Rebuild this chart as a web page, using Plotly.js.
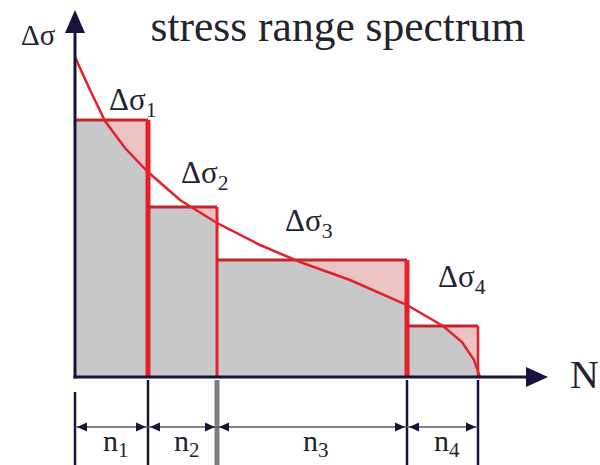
<!DOCTYPE html>
<html>
<head>
<meta charset="utf-8">
<script src="https://cdn.plot.ly/plotly-3.0.1.min.js"></script>
<style>
  html, body { margin: 0; padding: 0; background: #ffffff; }
  #chart { width: 600px; height: 465px; }
</style>
</head>
<body>
<div id="chart"></div>
<script>
// Block loading: stress level Δσ_i applied for n_i cycles
const blockLabels = ['Δσ<sub>1</sub>', 'Δσ<sub>2</sub>', 'Δσ<sub>3</sub>', 'Δσ<sub>4</sub>'];
const cycleLabels = ['n<sub>1</sub>', 'n<sub>2</sub>', 'n<sub>3</sub>', 'n<sub>4</sub>'];
const stressLevels = [257, 170, 117, 51];
const cycleCounts = [73, 69, 190, 71];

// Continuous stress range spectrum (cumulative cycles N, stress range Δσ)
const spectrumN = [0, 15, 30, 50, 73, 105, 142, 185, 225, 275, 332, 368, 387, 399, 405];
const spectrumS = [320, 287, 256, 229, 205, 177, 154, 132, 115, 97, 72, 51, 35, 17, 0];

// Axis labels and heading
const titleText = 'stress range spectrum';
const yAxisLabel = 'Δσ';
const xAxisLabel = 'N';

// ---- geometry derived from the data ----
const edges = [0];
cycleCounts.forEach(n => edges.push(edges[edges.length - 1] + n));
const nMax = edges[edges.length - 1];

const X_RANGE = [-75, 525];
const Y_RANGE = [-88, 377];
const DIM_Y = -50;        // dimension line below the N axis
const X_ARROW_TIP = 473;
const Y_ARROW_TIP = 367;

const NAVY = '#15153c';
const RED = '#e3212b';
const RED_DARK = '#c1262c';
const GREY_FILL = '#c8c8cb';
const PINK_FILL = '#ecc3c3';
const TEXT = '#23232e';
const SERIF = 'Liberation Serif, Times New Roman, serif';

function spectrumAt(x) {
  for (let i = 0; i < spectrumN.length - 1; i++) {
    const x0 = spectrumN[i], x1 = spectrumN[i + 1];
    if (x >= x0 && x <= x1) {
      const t = (x - x0) / (x1 - x0);
      return spectrumS[i] + t * (spectrumS[i + 1] - spectrumS[i]);
    }
  }
  return 0;
}

// Points along a block where the fill boundary can bend
function blockBreaks(a, b, h) {
  const xs = [a, b];
  spectrumN.forEach(x => { if (x > a && x < b) xs.push(x); });
  for (let i = 0; i < spectrumN.length - 1; i++) {
    const d0 = spectrumS[i] - h, d1 = spectrumS[i + 1] - h;
    if (d0 * d1 < 0) {
      const x = spectrumN[i] + (d0 / (d0 - d1)) * (spectrumN[i + 1] - spectrumN[i]);
      if (x > a && x < b) xs.push(x);
    }
  }
  return xs.sort((p, q) => p - q);
}

const traces = [];
const edgeWidths = [5, 3, 5, 2.5];

stressLevels.forEach((h, i) => {
  const a = edges[i], b = edges[i + 1];
  // part of the block above the spectrum curve
  traces.push({
    type: 'scatter', mode: 'lines', x: [a, a, b, b, a], y: [0, h, h, 0, 0],
    fill: 'toself', fillcolor: PINK_FILL, line: { width: 0 }, hoverinfo: 'skip'
  });
  // part of the block under the spectrum curve
  const xs = blockBreaks(a, b, h);
  const px = [a], py = [0];
  xs.forEach(x => { px.push(x); py.push(Math.min(spectrumAt(x), h)); });
  px.push(b, a); py.push(0, 0);
  traces.push({
    type: 'scatter', mode: 'lines', x: px, y: py,
    fill: 'toself', fillcolor: GREY_FILL, line: { width: 0 }, hoverinfo: 'skip'
  });
});

// block outlines
stressLevels.forEach((h, i) => {
  const a = edges[i], b = edges[i + 1];
  traces.push({
    type: 'scatter', mode: 'lines', x: [a, b], y: [h, h],
    line: { color: RED_DARK, width: 3 }, hoverinfo: 'skip'
  });
  traces.push({
    type: 'scatter', mode: 'lines', x: [b, b], y: [h, 0],
    line: { color: RED, width: edgeWidths[i] }, hoverinfo: 'skip'
  });
});

// spectrum curve
traces.push({
  type: 'scatter', mode: 'lines', x: spectrumN, y: spectrumS,
  line: { color: RED, width: 2.5 }, hoverinfo: 'skip'
});

// extension ticks below the axis at block boundaries
edges.forEach((e, i) => {
  traces.push({
    type: 'scatter', mode: 'lines', x: [e, e], y: [i === 0 ? -15 : -3, Y_RANGE[0]],
    line: { color: i === 2 ? '#7d7d82' : NAVY, width: i === 2 ? 5 : 2.5 },
    hoverinfo: 'skip'
  });
});

// dimension line
traces.push({
  type: 'scatter', mode: 'lines', x: [0, nMax], y: [DIM_Y, DIM_Y],
  line: { color: '#5a5a62', width: 1.5 }, hoverinfo: 'skip'
});

// axis lines (Δσ and N)
traces.push({
  type: 'scatter', mode: 'lines', x: [0, 0], y: [-1.5, Y_ARROW_TIP - 15],
  line: { color: NAVY, width: 3 }, hoverinfo: 'skip'
});
traces.push({
  type: 'scatter', mode: 'lines', x: [-1.5, X_ARROW_TIP - 15], y: [0, 0],
  line: { color: NAVY, width: 3 }, hoverinfo: 'skip'
});

// arrowheads as filled triangles in axis units
const shapes = [];
function head(tipX, tipY, dirX, dirY, len, half, color) {
  const bx = tipX - dirX * len, by = tipY - dirY * len;
  const nx = -dirY * half, ny = dirX * half;
  shapes.push({
    type: 'path', xref: 'x', yref: 'y', layer: 'above',
    path: `M ${tipX} ${tipY} L ${bx + nx} ${by + ny} L ${bx - nx} ${by - ny} Z`,
    fillcolor: color, line: { width: 0 }
  });
}
head(0, Y_ARROW_TIP, 0, 1, 23, 10, NAVY);
head(X_ARROW_TIP, 0, 1, 0, 22, 10, NAVY);
cycleCounts.forEach((n, i) => {
  head(edges[i] + 2, DIM_Y, -1, 0, 10, 4.5, NAVY);
  head(edges[i + 1] - 2, DIM_Y, 1, 0, 10, 4.5, NAVY);
});

const annotations = [];

// cycle count labels under the dimension line
cycleCounts.forEach((n, i) => {
  annotations.push({
    x: (edges[i] + edges[i + 1]) / 2 + 4, y: -66, xref: 'x', yref: 'y',
    text: cycleLabels[i], showarrow: false,
    font: { family: SERIF, size: 30, color: TEXT }
  });
});

// stress level labels
const labelPos = [[58, 275], [130, 202], [234, 154], [387, 98]];
stressLevels.forEach((h, i) => {
  annotations.push({
    x: labelPos[i][0], y: labelPos[i][1], xref: 'x', yref: 'y',
    text: blockLabels[i], showarrow: false,
    font: { family: SERIF, size: 31, color: TEXT }
  });
});

// axis labels
annotations.push({
  x: -37, y: 342, xref: 'x', yref: 'y', text: yAxisLabel, showarrow: false,
  font: { family: SERIF, size: 29, color: TEXT }
});
annotations.push({
  x: 509, y: 3, xref: 'x', yref: 'y', text: xAxisLabel, showarrow: false,
  font: { family: SERIF, size: 40, color: TEXT }
});

const layout = {
  width: 600, height: 465,
  margin: { l: 0, r: 0, t: 0, b: 0 },
  paper_bgcolor: '#ffffff', plot_bgcolor: '#ffffff',
  showlegend: false,
  title: {
    text: titleText, x: 0.563, xanchor: 'center', y: 0.945, yanchor: 'middle',
    font: { family: SERIF, size: 43.5, color: TEXT }
  },
  xaxis: { range: X_RANGE, visible: false, fixedrange: true },
  yaxis: { range: Y_RANGE, visible: false, fixedrange: true },
  shapes: shapes,
  annotations: annotations
};

Plotly.newPlot('chart', traces, layout, { staticPlot: true, displayModeBar: false });
</script>
</body>
</html>
